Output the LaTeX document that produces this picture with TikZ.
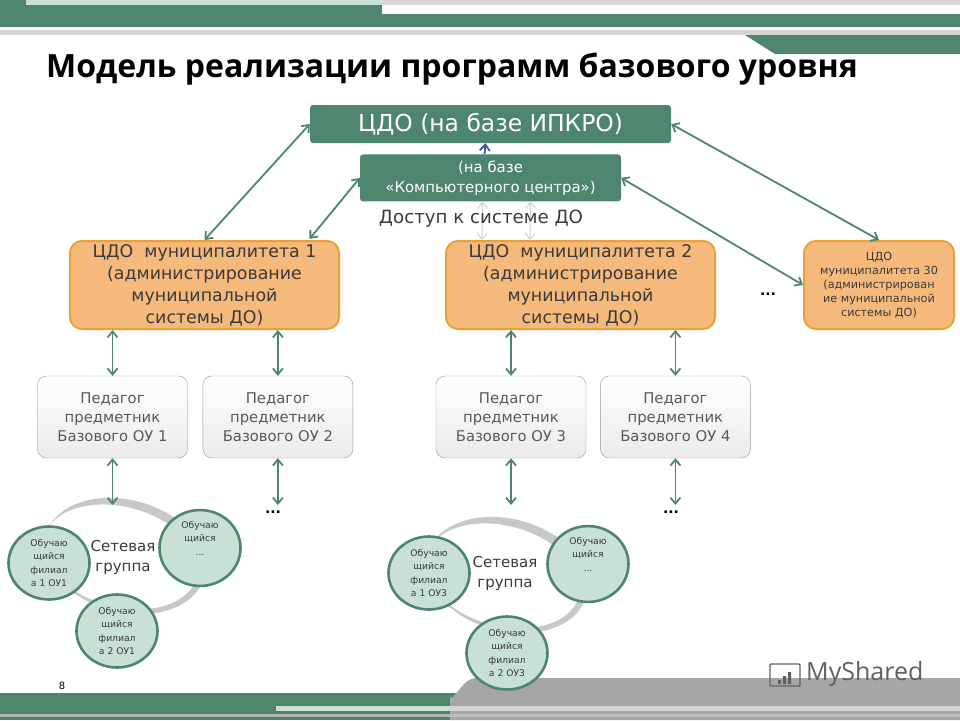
\documentclass[tikz,border=0pt]{standalone}
\usepackage{fontspec}
\setmainfont{DejaVu Sans}
\newfontfamily\titlefont{Open Sans}
\usepackage{tikz}
\usetikzlibrary{shapes.geometric,arrows.meta,positioning,calc}
\definecolor{grn}{HTML}{4E856D}
\definecolor{mint}{HTML}{C9E0D7}
\definecolor{orfill}{HTML}{F5B97C}
\definecolor{ordraw}{HTML}{E9A136}
\definecolor{txt}{HTML}{3A3A3A}
\definecolor{ringc}{HTML}{C8C8C8}

\begin{document}
\begin{tikzpicture}[x=1pt, y=-1pt, >={Straight Barb[length=6pt,width=10pt]},
    cdo/.style={rectangle, fill=grn, rounded corners=3pt, text=white, align=center, inner sep=0pt},
    mun/.style={rectangle, draw=ordraw, line width=2pt, rounded corners=12pt, fill=orfill, text=txt, align=center, inner sep=0pt, minimum height=88pt},
    ped/.style={rectangle, draw=black!40, rounded corners=9pt, top color=white, bottom color=black!8, text=black!65, align=center, inner sep=0pt, minimum width=150pt, minimum height=82pt, font=\fontsize{14.8}{19}\selectfont},
    stud/.style={ellipse, draw=grn, line width=2.6pt, fill=mint, text=txt, align=center, inner sep=0pt, minimum width=81pt, minimum height=73pt, font=\fontsize{9.2}{13.5}\selectfont},
    ar/.style={<->, grn, line width=1.8pt},
    faint/.style={<->, black!18, line width=1pt},
    grp/.style={text=txt, align=center, font=\fontsize{15}{20}\selectfont},
    dots/.style={font=\bfseries\fontsize{14}{14}\selectfont, text=black}]
    \useasboundingbox (0,0) rectangle (960,720);
    % top bars
    \fill [grn] (0,0) rectangle (382,27);
    \fill [grn] (382,14) rectangle (960,27);
    \fill [mint] (26,0) rectangle (382,5);
    \fill [black!16] (382,0) rectangle (960,5);
    \fill [black!16] (0,30) rectangle (960,35);
    \fill [grn] (745,35) -- (960,35) -- (960,54) -- (775,54) -- cycle;
    % bottom bars
    \fill [grn] (0,693) rectangle (460,720);
    \fill [mint] (276,706) rectangle (460,711);
    \fill [black!30] (0,714) rectangle (460,717);
    \fill [black!35] (450,720) -- (450,695) to[out=-90,in=180] (475,678) -- (960,678) -- (960,720) -- cycle;
    \fill [black!16] (450,706) rectangle (960,711);
    \fill [black!25] (450,714) rectangle (960,717);
    % title
    \node [anchor=west, inner sep=0pt, font=\titlefont\bfseries\fontsize{32}{34}\selectfont] (title) at (46,69) {Модель реализации программ базового уровня};
    % top level
    \node [cdo, minimum width=361pt, minimum height=38pt, font=\fontsize{23.4}{24}\selectfont] (ipkro) at (490.5,124) {ЦДО (на базе ИПКРО)};
    \node [cdo, below=11pt of ipkro, minimum width=261pt, minimum height=47pt, font=\fontsize{14.9}{20}\selectfont] (comp) {(на базе\\«Компьютерного центра»)};
    % municipalities
    \node [mun, minimum width=269pt, font=\fontsize{17.4}{22}\selectfont] (m1) at (204.5,285) {ЦДО\ \ муниципалитета 1\\(администрирование\\муниципальной\\системы ДО)};
    \node [mun, right=105pt of m1, minimum width=269pt, font=\fontsize{17.4}{22}\selectfont] (m2) {ЦДО\ \ муниципалитета 2\\(администрирование\\муниципальной\\системы ДО)};
    \node [mun, minimum width=150pt, font=\fontsize{11.2}{14}\selectfont] (m30) at (879,285) {ЦДО\\муниципалитета 30\\(администрирован\\ие муниципальной\\системы ДО)};
    \draw [faint] ($(comp.south)+(-8,0)$) -- ($(m2.north)+(-98.5,0)$);
    \draw [faint] ($(comp.south)+(40,0)$) -- ($(m2.north)+(-50.5,0)$);
    \node [text=txt, inner sep=0pt, font=\fontsize{18.2}{20}\selectfont] (dostup) at (481,219) {Доступ к системе ДО};
    % teachers
    \node [ped] (p1) at (112.5,417) {Педагог\\предметник\\Базового ОУ 1};
    \node [ped, right=15pt of p1] (p2) {Педагог\\предметник\\Базового ОУ 2};
    \node [ped] (p3) at (511,417) {Педагог\\предметник\\Базового ОУ 3};
    \node [ped, right=14pt of p3] (p4) {Педагог\\предметник\\Базового ОУ 4};
    % network groups
    \fill [ringc, even odd rule, rotate around={-15:(125,556)}] (125,556) ellipse [x radius=82, y radius=56] (121,558) ellipse [x radius=79, y radius=50];
    \fill [ringc, even odd rule, rotate around={-15:(507,575)}] (507,575) ellipse [x radius=82, y radius=56] (503,577) ellipse [x radius=79, y radius=50];
    \node [stud] (a1) at (49,563) {Обучаю\\щийся\\филиал\\а 1 ОУ1};
    \node [stud] (a2) at (200,548) {Обучаю\\щийся\\...\\[6pt]};
    \node [stud] (a3) at (117,631) {Обучаю\\щийся\\филиал\\а 2 ОУ1};
    \node [grp] (g1) at (123,557) {Сетевая\\группа};
    \node [stud] (b1) at (429,573) {Обучаю\\щийся\\филиал\\а 1 ОУ3};
    \node [stud] (b2) at (588,564) {Обучаю\\щийся\\...\\[6pt]};
    \node [stud] (b3) at (507,653) {Обучаю\\щийся\\филиал\\а 2 ОУ3};
    \node [grp] (g2) at (505,573) {Сетевая\\группа};
    % free ends
    \coordinate (e1) at (113,505);
    \coordinate (e2) at (278,505);
    \coordinate (e3) at (510,505);
    \coordinate (e4) at (674,505);
    % connectors
    \draw [<-, blue!30!grn, line width=1.8pt] ($(ipkro.south)+(-5,0)$) -- ($(comp.north)+(-6,0)$);
    \draw [ar] (ipkro.west) -- (m1.north);
    \draw [ar] (comp.west) -- ($(m1.north)+(105,-1)$);
    \draw [ar] (ipkro.east) -- (m30.north);
    \draw [ar] (comp.east) -- (m30.west);
    \draw [ar] (p1.north |- m1.south) -- (p1.north);
    \draw [ar] (p2.north |- m1.south) -- (p2.north);
    \draw [ar] (p3.north |- m2.south) -- (p3.north);
    \draw [ar] (p4.north |- m2.south) -- (p4.north);
    \draw [ar] (p1.south) -- (p1.south |- e1);
    \draw [ar] (p2.south) -- (p2.south |- e2);
    \draw [ar] (p3.south) -- (p3.south |- e3);
    \draw [ar] (p4.south) -- (p4.south |- e4);
    % dots
    \node [dots] (d1) at (768,294) {...};
    \node [dots] (d2) at (273,512) {...};
    \node [dots] (d3) at (671,512) {...};
    \node [font=\fontsize{10}{12}\selectfont] (num) at (62,686) {8};
    % watermark
    \node [anchor=west, inner sep=0pt, text=black!62, font=\titlefont\fontsize{25}{27}\selectfont] (mark) at (806,674) {MyShared};
    \draw [black!62, line width=1.4pt, rounded corners=1pt] (770,664) rectangle (800,686);
    \fill [black!62] (778,680) rectangle (781,684) (783,676) rectangle (786,684) (788,672) rectangle (791,684);
\end{tikzpicture}
\end{document}
